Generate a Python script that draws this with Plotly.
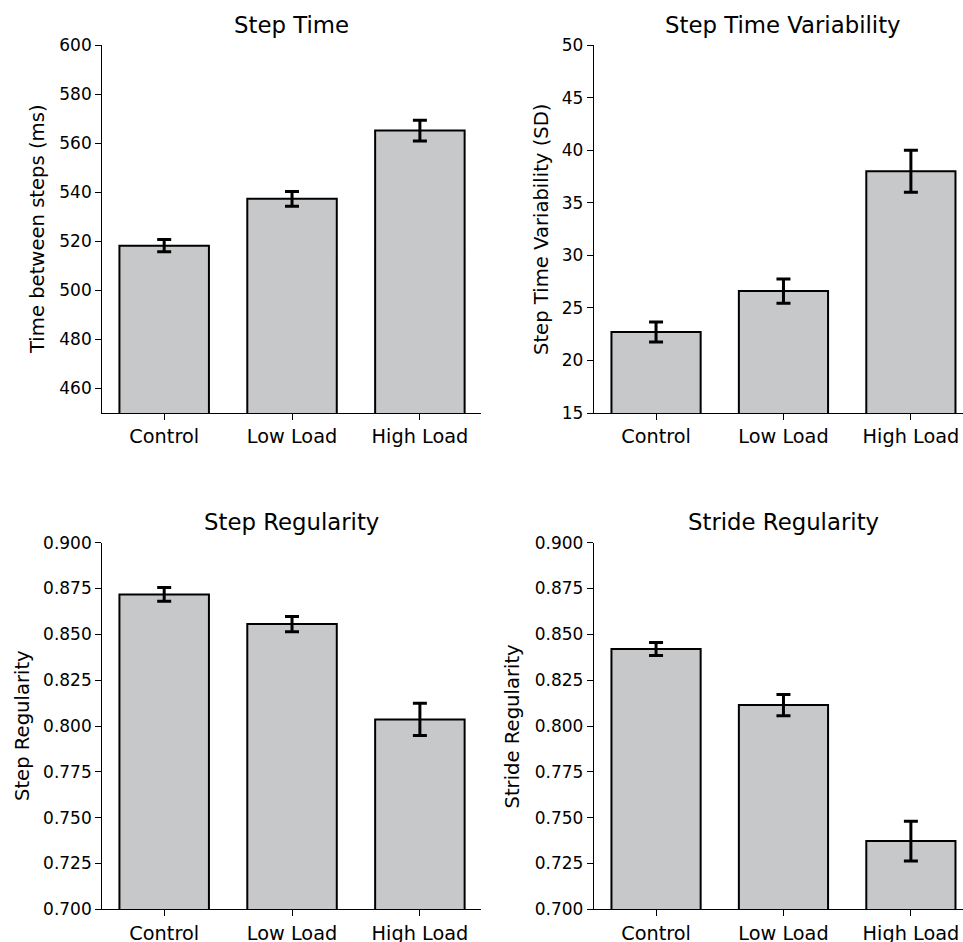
import plotly.graph_objects as go

categories = ["Control", "Low Load", "High Load"]

step_time = [518.2, 537.3, 565.1]
step_time_err = [2.5, 3.0, 4.2]

step_time_var = [22.7, 26.6, 38.0]
step_time_var_err = [0.95, 1.15, 2.0]

step_reg = [0.8718, 0.8556, 0.8036]
step_reg_err = [0.0037, 0.0042, 0.0088]

stride_reg = [0.842, 0.8114, 0.7372]
stride_reg_err = [0.0035, 0.0058, 0.0108]

titles = ["Step Time", "Step Time Variability", "Step Regularity", "Stride Regularity"]
ylabels = ["Time between steps (ms)", "Step Time Variability (SD)", "Step Regularity", "Stride Regularity"]

OFF = 0
W, H = 963 - OFF, 942 - OFF
FONT = "DejaVu Sans"
BAR_FILL = "#c7c8ca"


def px(x):
    return (x - OFF) / W


def py(y):
    return 1 - (y - OFF) / H


xdom = {"L": (px(102.3), px(481)), "R": (px(594), 1.0)}
ydom = {"T": (py(413), py(45)), "B": (py(909.3), py(542.7))}
xrange_ = {"L": [-0.484, 2.478], "R": [-0.487, 2.409]}

panels = [
    ("L", "T", step_time, step_time_err, [450, 600], [460, 480, 500, 520, 540, 560, 580, 600], None),
    ("R", "T", step_time_var, step_time_var_err, [15, 50], [15, 20, 25, 30, 35, 40, 45, 50], None),
    ("L", "B", step_reg, step_reg_err, [0.7, 0.9], [0.7, 0.725, 0.75, 0.775, 0.8, 0.825, 0.85, 0.875, 0.9], ".3f"),
    ("R", "B", stride_reg, stride_reg_err, [0.7, 0.9], [0.7, 0.725, 0.75, 0.775, 0.8, 0.825, 0.85, 0.875, 0.9], ".3f"),
]

fig = go.Figure()
layout = {}
annotations = []
title_x = {"L": px(291.6), "R": px(783)}
title_y = {"T": py(25), "B": py(522)}
ylab_x = {("L", "T"): px(37), ("R", "T"): px(541), ("L", "B"): px(22), ("R", "B"): px(511.5)}
ylab_y = {"T": py(229), "B": py(726)}

for i, (col, row, vals, errs, yr, yt, fmt) in enumerate(panels):
    n = "" if i == 0 else str(i + 1)
    fig.add_trace(go.Bar(
        x=categories, y=vals, width=0.7,
        marker=dict(color=BAR_FILL, line=dict(color="black", width=2)),
        error_y=dict(type="data", array=errs, visible=True, color="black", thickness=3, width=7),
        xaxis="x" + n, yaxis="y" + n, showlegend=False,
    ))
    layout["xaxis" + n] = dict(
        domain=list(xdom[col]), anchor="y" + n, type="category", automargin=False,
        range=xrange_[col], showline=True, linecolor="black", linewidth=1.3,
        ticks="outside", ticklen=6, tickwidth=1.3, tickcolor="black",
        showgrid=False, zeroline=False,
        tickfont=dict(family=FONT, size=19.3, color="black"),
    )
    yax = dict(
        domain=list(ydom[row]), anchor="x" + n, range=yr, automargin=False,
        tickvals=yt, showline=True, linecolor="black", linewidth=1.3,
        ticks="outside", ticklen=6, tickwidth=1.3, tickcolor="black",
        showgrid=False, zeroline=False,
        tickfont=dict(family=FONT, size=17, color="black"),
    )
    if fmt:
        yax["tickformat"] = fmt
    layout["yaxis" + n] = yax
    annotations.append(dict(
        text=titles[i], x=title_x[col], y=title_y[row], xref="paper", yref="paper",
        xanchor="center", yanchor="middle", showarrow=False,
        font=dict(family=FONT, size=22.8, color="black"),
    ))
    annotations.append(dict(
        text=ylabels[i], x=ylab_x[(col, row)], y=ylab_y[row], xref="paper", yref="paper",
        xanchor="center", yanchor="middle", showarrow=False, textangle=-90,
        font=dict(family=FONT, size=19.6, color="black"),
    ))

fig.update_layout(
    **layout,
    annotations=annotations,
    width=W, height=H,
    margin=dict(l=0, r=0, t=0, b=0, autoexpand=False),
    plot_bgcolor="white", paper_bgcolor="white",
    bargap=0.3,
    hovermode=False,
)

fig.write_html(
    "out.html",
    config={"responsive": False, "displayModeBar": False},
    post_script="document.body.style.margin='0';document.body.style.overflow='hidden';",
)
